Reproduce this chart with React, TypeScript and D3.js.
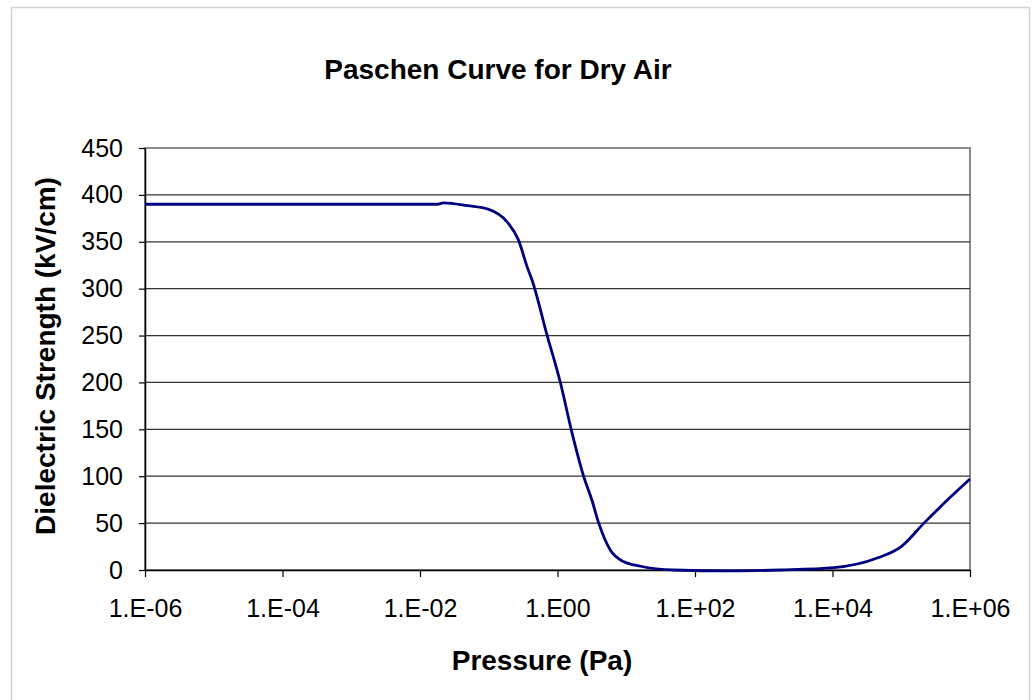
import * as d3 from "d3"
import React from "react"

// pressure in Pa, dielectric strength in kV/cm
const pressure = [
  1e-6, 1e-4, 1e-2, 1.78e-2, 2.19e-2, 4.9e-2, 0.1, 0.186, 0.27, 0.363, 0.427,
  0.708, 1.1, 1.58, 2.4, 3.16, 3.98, 5.89, 9.1, 16.2, 49, 331, 1780, 1.05e4,
  4.57e4, 1e5, 2.14e5, 5.25e5, 1e6,
]
const strength = [
  390, 390, 390, 390, 391.5, 388.5, 384.6, 371, 352, 323, 309,
  250, 200, 150, 100, 74.6, 50, 21, 9, 4, 0, -1, 0, 2.5,
  13, 25, 50, 78, 97,
]
const xTicks = [1e-6, 1e-4, 1e-2, 1, 1e2, 1e4, 1e6]
const xTickLabels = ["1.E-06", "1.E-04", "1.E-02", "1.E00", "1.E+02", "1.E+04", "1.E+06"]
const yTicks = [0, 50, 100, 150, 200, 250, 300, 350, 400, 450]

const width = 1036
const height = 700
const left = 145
const right = 970
const top = 148
const bottom = 570
const font = "'Liberation Sans', Arial, sans-serif"

const drawChart = (svgEl: SVGSVGElement) => {
  const svg = d3.select(svgEl)
  svg.selectAll("*").remove()

  const x = d3.scaleLog().domain([1e-6, 1e6]).range([left, right])
  const y = d3.scaleLinear().domain([0, 450]).range([bottom, top])

  // outer chart frame
  svg.append("rect")
    .attr("x", 11.5).attr("y", 7.5)
    .attr("width", 1018).attr("height", 710)
    .attr("fill", "#fff")
    .attr("stroke", "#d4d4d4")
    .attr("stroke-width", 1.5)

  svg.append("text")
    .attr("x", 498).attr("y", 79)
    .attr("text-anchor", "middle")
    .attr("font-family", font)
    .attr("font-weight", "bold")
    .attr("font-size", 28)
    .text("Paschen Curve for Dry Air")

  // plot border (gray, top & right)
  svg.append("rect")
    .attr("x", left).attr("y", top)
    .attr("width", right - left).attr("height", bottom - top)
    .attr("fill", "none")
    .attr("stroke", "#8c8c8c")
    .attr("stroke-width", 2)

  // gridlines
  svg.append("g")
    .selectAll("line")
    .data(yTicks.filter(d => d > 0 && d < 450))
    .join("line")
    .attr("x1", left).attr("x2", right)
    .attr("y1", d => y(d)).attr("y2", d => y(d))
    .attr("stroke", "#333")
    .attr("stroke-width", 1.2)

  const yAxis = d3.axisLeft(y).tickValues(yTicks).tickSize(6).tickSizeOuter(0).tickPadding(16)
  svg.append("g")
    .attr("transform", `translate(${left},0)`)
    .call(yAxis)
    .call(g => g.select(".domain").attr("stroke", "#000").attr("stroke-width", 1.5))
    .call(g => g.selectAll(".tick line").attr("stroke", "#000").attr("stroke-width", 1.2))
    .call(g => g.selectAll(".tick text")
      .attr("font-family", font).attr("font-size", 25).attr("fill", "#000"))

  const xAxis = d3.axisBottom(x)
    .tickValues(xTicks)
    .tickFormat((d, i) => xTickLabels[i])
    .tickSize(7).tickSizeOuter(0).tickPadding(22)
  svg.append("g")
    .attr("transform", `translate(0,${bottom})`)
    .call(xAxis)
    .call(g => g.select(".domain").attr("stroke", "#000").attr("stroke-width", 1.5))
    .call(g => g.selectAll(".tick line").attr("stroke", "#000").attr("stroke-width", 1.2))
    .call(g => g.selectAll(".tick text")
      .attr("font-family", font).attr("font-size", 25).attr("fill", "#000"))

  const line = d3.line<number>()
    .x((d, i) => x(pressure[i]))
    .y(d => y(d))
    .curve(d3.curveMonotoneX)

  svg.append("path")
    .datum(strength)
    .attr("d", line)
    .attr("fill", "none")
    .attr("stroke", "#000080")
    .attr("stroke-width", 2.8)
    .attr("stroke-linejoin", "round")

  svg.append("text")
    .attr("x", 542).attr("y", 670)
    .attr("text-anchor", "middle")
    .attr("font-family", font)
    .attr("font-weight", "bold")
    .attr("font-size", 28)
    .text("Pressure (Pa)")

  svg.append("text")
    .attr("transform", "translate(55,356) rotate(-90)")
    .attr("text-anchor", "middle")
    .attr("font-family", font)
    .attr("font-weight", "bold")
    .attr("font-size", 28)
    .text("Dielectric Strength (kV/cm)")
}

const App = () => {
  const ref = React.useRef<SVGSVGElement>(null)
  React.useEffect(() => {
    if (ref.current) drawChart(ref.current)
  }, [])

  return (
    <svg ref={ref} width={width} height={height}
      style={{ position: "absolute", left: 0, top: 0, background: "#fff" }} />
  )
}

export default App
